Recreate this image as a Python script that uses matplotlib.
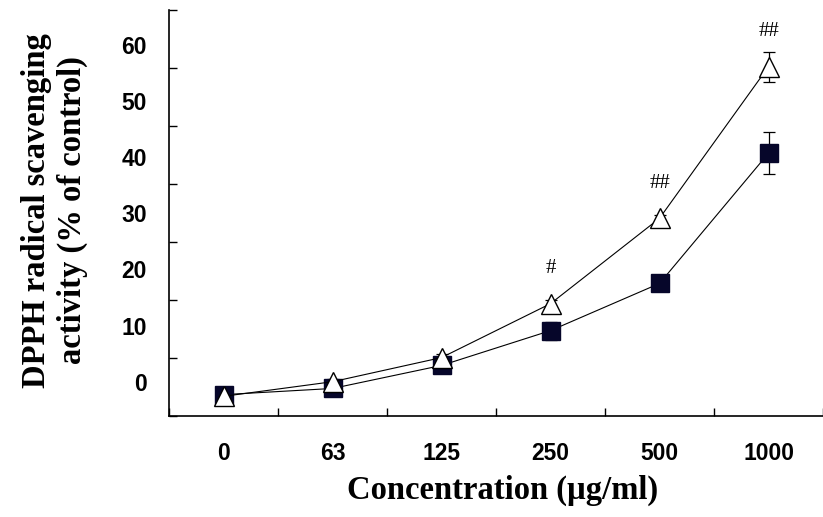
import matplotlib
matplotlib.use('Agg')
import matplotlib.pyplot as plt
import numpy as np

# dados (% of control)
concentracoes = ['0', '63', '125', '250', '500', '1000']
quadrado_media = [-2.3, -1.2, 2.9, 9.1, 17.5, 40.7]
quadrado_erro = [0.3, 0.5, 1.4, 1.6, 0.8, 3.7]
triangulo_media = [-2.6, 0.0, 4.3, 13.9, 29.1, 56.1]
triangulo_erro = [0.3, 0.4, 0.6, 0.6, 0.6, 2.7]
marcas = ['', '', '', '#', '##', '##']
y_rotulos = [0, 10, 20, 30, 40, 50, 60]

fig = plt.figure(figsize=(8.23, 5.17), dpi=100)
ax = fig.add_axes([0.2054, 0.1954, 0.7946, 0.7853])

x = np.arange(len(concentracoes))

# barras de erro atrás dos marcadores
ax.errorbar(x, quadrado_media, yerr=quadrado_erro, fmt='none', ecolor='black',
            elinewidth=0.9, capsize=4.5, capthick=0.9, zorder=2)
ax.errorbar(x, triangulo_media, yerr=triangulo_erro, fmt='none', ecolor='black',
            elinewidth=0.9, capsize=4.5, capthick=0.9, zorder=2)
ax.plot(x, quadrado_media, color='black', lw=0.8, marker='s', markersize=13,
        markerfacecolor='#06062a', markeredgecolor='#06062a', zorder=3)
ax.plot(x, triangulo_media, color='black', lw=0.8, marker='^', markersize=14,
        markerfacecolor='white', markeredgecolor='black', markeredgewidth=1.0, zorder=4)

for xi, yi, m in zip(x, triangulo_media, marcas):
    if m:
        ax.annotate(m, (xi, yi), xytext=(0, 25), textcoords='offset points',
                    ha='center', va='center', fontsize=15, family='Liberation Serif')

# eixos
ymin, ymax = -6.1, 66.2
ax.set_xlim(-0.5, 5.5)
ax.set_ylim(ymin, ymax)
ax.spines['top'].set_visible(False)
ax.spines['right'].set_visible(False)
ax.spines['left'].set_linewidth(1.2)
ax.spines['bottom'].set_linewidth(1.2)

# marcas nos limites das categorias, rótulos no meio
ax.set_xticks(np.arange(-0.5, 5.6, 1.0))
ax.set_xticklabels([])
ax.set_xticks(x, minor=True)
ax.set_xticklabels(concentracoes, minor=True)
ax.set_yticks(np.linspace(ymin, ymax, 8))
ax.set_yticklabels([])
ax.set_yticks(y_rotulos, minor=True)
ax.set_yticklabels([str(v) for v in y_rotulos], minor=True)

ax.tick_params(which='major', direction='in', length=6, width=1.0)
ax.tick_params(which='minor', length=0)
ax.tick_params(axis='x', which='minor', pad=19)
ax.tick_params(axis='y', which='minor', pad=16)
for lbl in ax.get_xticklabels(minor=True) + ax.get_yticklabels(minor=True):
    lbl.set_fontfamily('Liberation Sans')
    lbl.set_fontweight('bold')
    lbl.set_fontsize(16.5)

ax.set_xlabel('Concentration (µg/ml)', fontsize=23.5, fontweight='bold',
              family='Liberation Serif')
ax.xaxis.set_label_coords(0.51, -0.145)
ax.set_ylabel('DPPH radical scavenging\nactivity (% of control)', fontsize=23.5,
              fontweight='bold', family='Liberation Serif', linespacing=1.2)
ax.yaxis.set_label_coords(-0.124, 0.506)

fig.savefig('out.png', dpi=100)
